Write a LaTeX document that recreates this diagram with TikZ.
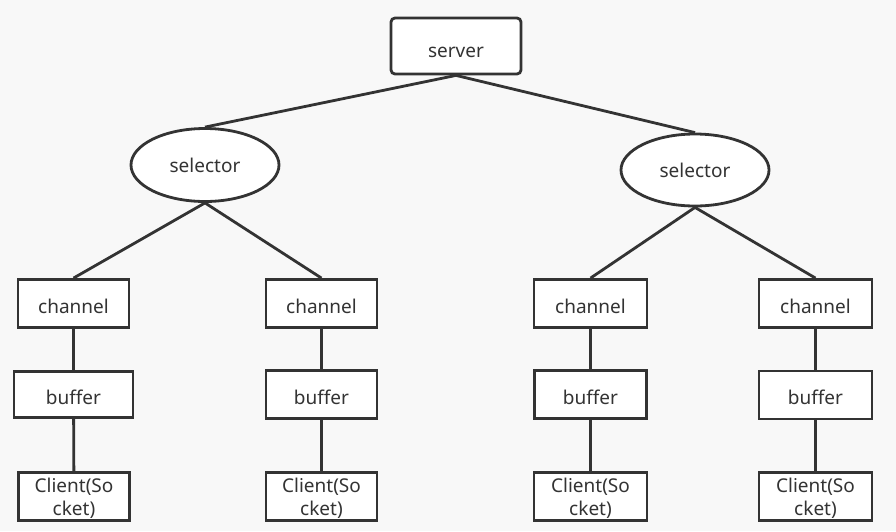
\documentclass[tikz,border=0pt]{standalone}
\usepackage{fontspec}
\setmainfont{Noto Sans}
\usetikzlibrary{shapes.geometric}
\definecolor{bgc}{HTML}{F8F8F8}
\definecolor{ink}{HTML}{333333}

\begin{document}
\begin{tikzpicture}[x=1pt, y=-1pt, every node/.style={draw=ink, line width=2.8pt, fill=white, text=ink, font=\fontsize{19}{23}\selectfont, inner sep=0pt, align=center}, box/.style={rectangle, minimum width=111pt, minimum height=48pt, text height=19pt, text depth=0pt}, cbox/.style={rectangle, minimum width=111pt, minimum height=48pt, text depth=-1pt}, link/.style={draw=ink, line width=2.8pt}]
            \fill[bgc] (0,0) rectangle (896,531);
            \node[rectangle, rounded corners=4pt, minimum width=130pt, minimum height=56pt, text height=23pt, text depth=0pt] (server) at (456,46) {server};
            \node[ellipse, minimum width=148pt, minimum height=73pt, text height=15pt, text depth=0pt] (selL) at (205,165) {selector};
            \node[ellipse, minimum width=148pt, minimum height=72pt, text height=15pt, text depth=0pt] (selR) at (695,170) {selector};
            % left part
            \node[box] (chanA) at (73.5,303.5) {channel};
            \node[box, minimum width=119pt, minimum height=46pt] (bufA) at (73.5,394.5) {buffer};
            \node[cbox] (cliA) at (74,496.5) {Client(So\\cket)};
            \node[box] (chanB) at (321.5,303.5) {channel};
            \node[box] (bufB) at (321.5,394.5) {buffer};
            \node[cbox] (cliB) at (321.5,496.5) {Client(So\\cket)};
            % right part
            \node[box, minimum width=113pt] (chanC) at (590.5,303.5) {channel};
            \node[box, minimum width=112pt] (bufC) at (590.5,394.5) {buffer};
            \node[cbox, minimum width=113pt] (cliC) at (590.5,496.5) {Client(So\\cket)};
            \node[box, minimum width=113pt] (chanD) at (815.5,303.5) {channel};
            \node[box, minimum width=113pt] (bufD) at (815.5,395) {buffer};
            \node[cbox, minimum width=113pt] (cliD) at (815.5,496.5) {Client(So\\cket)};

            \draw[link] (server.south) -- (selL.north);
            \draw[link] (server.south) -- (selR.north);
            \draw[link] (selL.south) -- (chanA.north);
            \draw[link] (selL.south) -- (chanB.north);
            \draw[link] (selR.south) -- (chanC.north);
            \draw[link] (selR.south) -- (chanD.north);
            \draw[link] (chanA) -- (bufA) -- (cliA);
            \draw[link] (chanB) -- (bufB) -- (cliB);
            \draw[link] (chanC) -- (bufC) -- (cliC);
            \draw[link] (chanD) -- (bufD) -- (cliD);
\end{tikzpicture}
\end{document}
